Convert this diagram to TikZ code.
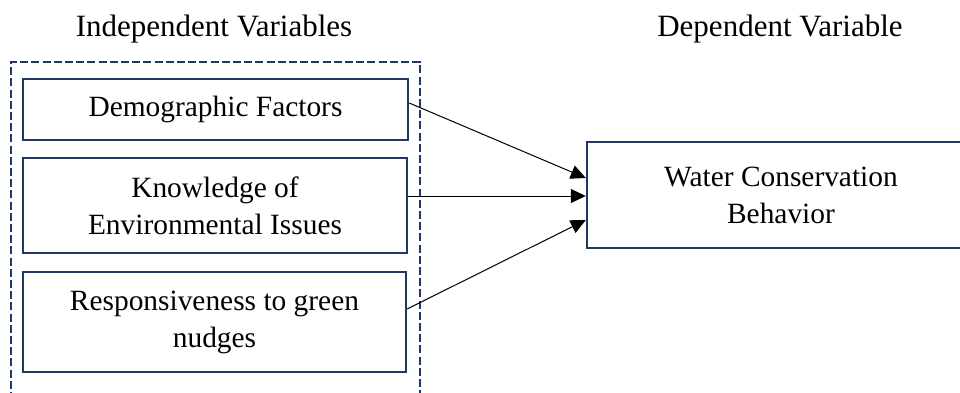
\documentclass[tikz,border=0pt]{standalone}
\usepackage{fontspec}
\setmainfont{Liberation Serif}
\usetikzlibrary{arrows.meta,calc,positioning}
\definecolor{navy}{HTML}{203864}
\tikzset{
    varbox/.style={draw=navy, line width=1.2pt, rectangle, inner sep=0pt,
        align=center, font=\fontsize{14.7}{18.5}\selectfont},
    headtext/.style={anchor=base, inner sep=0pt, font=\fontsize{15.5}{18}\selectfont},
    grouprule/.style={draw=navy, line width=1pt, dash pattern=on 4pt off 1.6pt},
    link/.style={draw=black, line width=0.5pt, -{Triangle[length=7.5pt,width=7pt]}}
}
\begin{document}
\begin{tikzpicture}[x=0.5pt, y=-0.5pt]
    \useasboundingbox (0,0) rectangle (960,392);
    \clip (0,0) rectangle (960,392);
    % headings
    \node[headtext] (indep) at (214,36) {Independent Variables};
    \node[headtext] (dep) at (780,36) {Dependent Variable};
    % group of independent variables
    \draw[grouprule] (11,400) -- (11,62) -- (420,62) -- (420,400);
    \node[varbox, minimum width=192.5pt, minimum height=30.5pt] (dem) at (215.5,109.5) {Demographic Factors};
    \node[varbox, minimum width=192pt, minimum height=47.5pt] (know) at (215,205.5) {Knowledge of\\Environmental Issues};
    \node[varbox, minimum width=191.5pt, minimum height=50pt] (resp) at (214.5,322) {Responsiveness to green\\nudges};
    % dependent variable
    \node[varbox, minimum width=194pt, minimum height=53pt] (wcb) at (781,195) {Water Conservation\\Behavior};
    % links
    \draw[link] ($(dem.east)+(0,-6.5)$) -- ($(wcb.west)+(0,-17)$);
    \draw[link] ($(know.east)+(0,-9.5)$) -- ($(wcb.west)+(0,1)$);
    \draw[link] ($(resp.east)+(0,-13)$) -- ($(wcb.west)+(0,25)$);
\end{tikzpicture}
\end{document}
